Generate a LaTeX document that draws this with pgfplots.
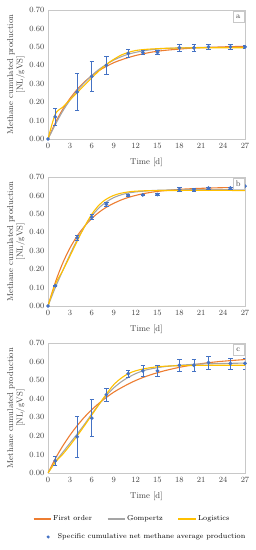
\documentclass[border=0pt]{standalone}
\usepackage{pgfplots}
\usepackage{pgfplotstable}
\pgfplotsset{compat=1.18}
\definecolor{cOrange}{HTML}{ED7D31}
\definecolor{cGray}{HTML}{A5A5A5}
\definecolor{cYellow}{HTML}{FFC000}
\definecolor{cBlue}{HTML}{4472C4}
\definecolor{cFrame}{HTML}{C8C8C8}
\definecolor{cText}{HTML}{404040}

% ---------- panel a ----------
\pgfplotstableread{
x y e
0 0.000 0.000
1 0.120 0.045
4 0.255 0.100
6 0.340 0.080
8 0.400 0.050
11 0.465 0.020
13 0.470 0.010
15 0.470 0.010
18 0.495 0.020
20 0.495 0.018
22 0.500 0.012
25 0.500 0.014
27 0.500 0.010
}\dataA
\pgfplotstableread{
x y
0 0.000
1 0.087
2 0.160
3 0.219
4 0.269
5 0.310
6 0.343
7 0.372
8 0.394
9 0.414
10 0.429
11 0.442
12 0.453
13 0.462
14 0.470
15 0.476
16 0.481
18 0.488
20 0.494
22 0.497
24 0.500
27 0.503
}\foA
\pgfplotstableread{
x y
0 0.000
1 0.078
2 0.150
3 0.210
4 0.262
5 0.306
6 0.345
7 0.378
8 0.405
9 0.428
10 0.446
11 0.460
12 0.470
13 0.478
14 0.484
15 0.488
16 0.491
18 0.494
20 0.496
22 0.497
24 0.497
27 0.497
}\goA
\pgfplotstableread{
x y
0 0.000
1 0.135
2 0.172
3 0.212
4 0.252
5 0.292
6 0.332
7 0.370
8 0.405
9 0.432
10 0.455
11 0.470
12 0.480
13 0.485
14 0.488
16 0.492
18 0.494
20 0.495
24 0.495
27 0.495
}\loA

% ---------- panel b ----------
\pgfplotstableread{
x y e
0 0.000 0.000
1 0.110 0.004
4 0.370 0.015
6 0.482 0.014
8 0.552 0.010
11 0.600 0.006
13 0.603 0.005
15 0.605 0.006
18 0.632 0.010
20 0.630 0.008
22 0.640 0.005
25 0.640 0.005
27 0.650 0.004
}\dataB
\pgfplotstableread{
x y
0 0.000
1 0.128
2 0.231
3 0.314
4 0.380
5 0.432
6 0.475
7 0.509
8 0.536
9 0.557
10 0.575
11 0.589
12 0.600
13 0.609
14 0.616
15 0.622
16 0.626
18 0.633
20 0.637
22 0.640
24 0.642
27 0.643
}\foB
\pgfplotstableread{
x y
0 0.000
1 0.100
2 0.190
3 0.278
4 0.360
5 0.430
6 0.488
7 0.533
8 0.565
9 0.588
10 0.603
11 0.613
12 0.619
14 0.626
16 0.629
20 0.631
27 0.632
}\goB
\pgfplotstableread{
x y
0 0.000
1 0.118
2 0.190
3 0.270
4 0.352
5 0.430
6 0.498
7 0.548
8 0.580
9 0.600
10 0.612
11 0.619
12 0.623
14 0.626
18 0.627
27 0.627
}\loB

% ---------- panel c ----------
\pgfplotstableread{
x y e
0 -0.005 0.000
1 0.065 0.025
4 0.195 0.112
6 0.295 0.100
8 0.422 0.035
11 0.535 0.020
13 0.550 0.030
15 0.550 0.030
18 0.580 0.030
20 0.580 0.030
22 0.595 0.035
25 0.590 0.030
27 0.590 0.030
}\dataC
\pgfplotstableread{
x y
0 0.000
1 0.077
2 0.144
3 0.203
4 0.255
5 0.301
6 0.341
7 0.376
8 0.407
9 0.435
10 0.458
11 0.479
12 0.498
13 0.514
14 0.528
15 0.540
16 0.551
18 0.569
20 0.583
22 0.594
24 0.602
27 0.611
}\foC
\pgfplotstableread{
x y
0 0.000
1 0.060
2 0.110
3 0.160
4 0.210
5 0.262
6 0.318
7 0.370
8 0.418
9 0.458
10 0.490
11 0.515
12 0.535
13 0.550
14 0.560
15 0.567
16 0.573
18 0.580
20 0.585
22 0.588
27 0.592
}\goC
\pgfplotstableread{
x y
0 0.000
1 0.058
2 0.100
3 0.148
4 0.200
5 0.255
6 0.312
7 0.370
8 0.425
9 0.475
10 0.510
11 0.535
12 0.550
13 0.560
14 0.567
15 0.572
16 0.575
18 0.578
22 0.580
27 0.580
}\loC

\tikzset{
  tag/.style={draw=cFrame, fill=white, font=\fontsize{8}{9}\selectfont, text=cText,
    inner sep=1.5pt, minimum width=11pt, minimum height=11pt, anchor=north east},
}
\pgfplotsset{
  panel/.style={
    scale only axis, width=197pt, height=129pt, anchor=south west,
    xmin=0, xmax=27, ymin=0, ymax=0.70,
    xtick={0,3,6,9,12,15,18,21,24,27},
    ytick={0,0.1,0.2,0.3,0.4,0.5,0.6,0.7},
    yticklabel style={/pgf/number format/.cd,fixed,fixed zerofill,precision=2},
    tick style={draw=none},
    axis line style={cFrame},
    clip mode=individual,
    tick label style={font=\fontsize{8}{9}\selectfont, text=cText},
    xticklabel style={yshift=-1pt},
    label style={font=\fontsize{8.5}{9.5}\selectfont, text=cText},
    xlabel={Time [d]},
    xlabel style={at={(axis description cs:0.5,-0.178)}, anchor=center},
    ylabel={Methane cumulated production\\{[NL/gVS]}},
    ylabel style={align=center, at={(axis description cs:-0.163,0.5)}, anchor=center},
  },
  fo/.style={cOrange, line width=1.1pt, smooth, no marks},
  go/.style={cGray, line width=1.1pt, smooth, no marks},
  lo/.style={cYellow, line width=1.1pt, smooth, no marks},
  pts/.style={only marks, mark=*, mark size=1.7pt, cBlue,
    error bars/y dir=both, error bars/y explicit,
    error bars/error bar style={cBlue, line width=0.6pt},
    error bars/error mark options={rotate=90, mark size=2.2pt, cBlue, line width=0.6pt}},
}

\begin{document}
\begin{tikzpicture}
\useasboundingbox (0,0) rectangle (255pt,550pt);

% panel a
\begin{axis}[panel, at={(48pt,411pt)}]
\addplot[fo] table {\foA};
\addplot[go] table {\goA};
\addplot[lo] table {\loA};
\addplot[pts] table[x=x,y=y,y error=e] {\dataA};
\node[tag] at (rel axis cs:0.995,0.99) {a};
\end{axis}

% panel b
\begin{axis}[panel, at={(48pt,244pt)}]
\addplot[fo] table {\foB};
\addplot[go] table {\goB};
\addplot[lo] table {\loB};
\addplot[pts] table[x=x,y=y,y error=e] {\dataB};
\node[tag] at (rel axis cs:0.995,0.99) {b};
\end{axis}

% panel c
\begin{axis}[panel, at={(48pt,77pt)}, height=130pt,
  legend style={draw=none, fill=none, legend columns=3, inner sep=0pt, outer sep=0pt,
    font=\fontsize{7.2}{8.5}\selectfont, text=black,
    at={(axis description cs:-0.076,-0.354)}, anchor=west,
    /tikz/every even column/.append style={column sep=13pt}},
  legend image post style={line width=1.1pt}]
\addplot[fo] table {\foC};
\addlegendentry{First order}
\addplot[go] table {\goC};
\addlegendentry{Gompertz}
\addplot[lo] table {\loC};
\addlegendentry{Logistics}
\addplot[pts, forget plot] table[x=x,y=y,y error=e] {\dataC};
\node[tag] at (rel axis cs:0.995,0.99) {c};
\end{axis}

% second legend row
\begin{axis}[scale only axis, width=197pt, height=130pt, anchor=south west,
  at={(48pt,77pt)}, hide axis, xmin=0, xmax=1, ymin=0, ymax=1,
  legend style={draw=none, fill=none, inner sep=0pt, outer sep=0pt,
    font=\fontsize{7.2}{8.5}\selectfont, text=black,
    at={(axis description cs:1.012,-0.492)}, anchor=east}]
\addlegendimage{legend image code/.code={
  \path[draw=none, fill=none] (-2pt,0) -- (7.5pt,0);
  \fill[cBlue, draw=none] (0pt,0pt) circle (1.7pt);}}
\addlegendentry{Specific cumulative net methane average production}
\end{axis}
\end{tikzpicture}
\end{document}
